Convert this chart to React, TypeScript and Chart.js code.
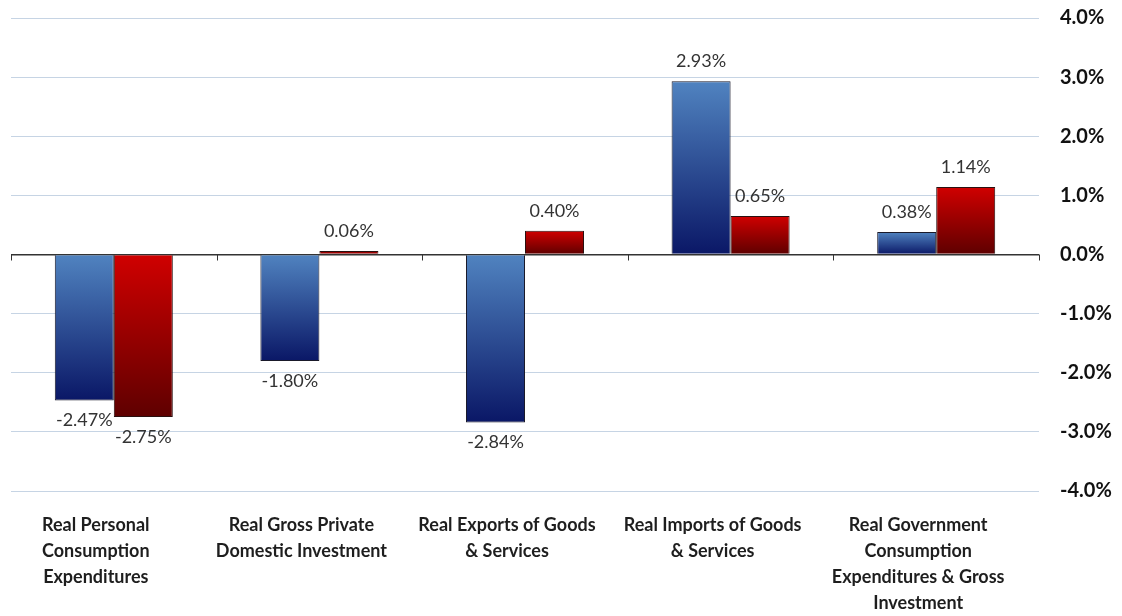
import React, { useEffect, useRef } from "react";
import { Chart, registerables } from "chart.js";

Chart.register(...registerables);

const categories: string[][] = [
  ["Real Personal", "Consumption", "Expenditures"],
  ["Real Gross Private", "Domestic Investment"],
  ["Real Exports of Goods", "& Services"],
  ["Real Imports of Goods", "& Services"],
  ["Real Government", "Consumption", "Expenditures & Gross", "Investment"],
];
const seriesBlue = [-2.47, -1.8, -2.84, 2.93, 0.38];
const seriesRed = [-2.75, 0.06, 0.4, 0.65, 1.14];
const yMin = -4;
const yMax = 4;
const yStep = 1;

const FONT = "Lato";
const LABEL_SIZE = 18;
const LABEL_LH = 26;
const LABEL_PAD = 21;
const LABEL_SHIFT = -18;

function gradientFill(top: string, bottom: string) {
  return (ctx: any) => {
    const chart = ctx.chart;
    const y = chart.scales && chart.scales.y;
    const v = ctx.raw;
    if (!y || !chart.chartArea || typeof v !== "number") return top;
    const p0 = y.getPixelForValue(0);
    const p1 = y.getPixelForValue(v);
    const a = Math.min(p0, p1);
    const b = Math.max(p0, p1);
    if (b - a < 1) return bottom;
    const g = chart.ctx.createLinearGradient(0, a, 0, b);
    g.addColorStop(0, top);
    g.addColorStop(1, bottom);
    return g;
  };
}

const customDraw = {
  id: "customDraw",
  afterDatasetsDraw(chart: any) {
    const ctx = chart.ctx;
    ctx.save();
    ctx.font = `normal 18px ${FONT}`;
    ctx.fillStyle = "#333333";
    ctx.textAlign = "center";
    ctx.textBaseline = "middle";
    chart.data.datasets.forEach((ds: any, di: number) => {
      const meta = chart.getDatasetMeta(di);
      meta.data.forEach((bar: any, i: number) => {
        const v = ds.data[i];
        const txt = v.toFixed(2) + "%";
        ctx.fillText(txt, bar.x, v >= 0 ? bar.y - 20 : bar.y + 20);
      });
    });
    const xs = chart.scales.x;
    const ys = chart.scales.y;
    const y0 = ys.getPixelForValue(0);
    const n = chart.data.labels.length;
    ctx.strokeStyle = "#333333";
    ctx.lineWidth = 1;
    for (let i = 0; i <= n; i++) {
      const x = Math.round(xs.left + (i * (xs.right - xs.left)) / n) + 0.5;
      ctx.beginPath();
      ctx.moveTo(x, y0);
      ctx.lineTo(x, y0 + 6);
      ctx.stroke();
    }
    ctx.restore();
  },
  afterDraw(chart: any) {
    const ctx = chart.ctx;
    const xs = chart.scales.x;
    ctx.save();
    ctx.font = `bold ${LABEL_SIZE}px ${FONT}`;
    ctx.fillStyle = "#1e1e1e";
    ctx.textAlign = "center";
    ctx.textBaseline = "middle";
    categories.forEach((lines, i) => {
      const cx = xs.getPixelForTick(i) + LABEL_SHIFT;
      lines.forEach((line, j) => {
        ctx.fillText(line, cx, xs.top + LABEL_PAD + LABEL_LH * (j + 0.5));
      });
    });
    ctx.restore();
  },
};

export default function App() {
  const ref = useRef<HTMLCanvasElement | null>(null);
  useEffect(() => {
    if (!ref.current) return;
    const chart = new Chart(ref.current, {
      type: "bar",
      data: {
        labels: categories,
        datasets: [
          {
            label: "Blue",
            data: seriesBlue,
            backgroundColor: gradientFill("#5083c0", "#0a1766"),
            borderColor: "#1a1a2a",
            borderWidth: 1,
            barPercentage: 1,
            categoryPercentage: 0.574,
          },
          {
            label: "Red",
            data: seriesRed,
            backgroundColor: gradientFill("#d00000", "#5e0000"),
            borderColor: "#2a1010",
            borderWidth: 1,
            barPercentage: 1,
            categoryPercentage: 0.574,
          },
        ],
      },
      options: {
        animation: false,
        responsive: true,
        maintainAspectRatio: false,
        layout: { padding: { left: 11, top: 18, right: 0, bottom: 0 } },
        plugins: {
          legend: { display: false },
          tooltip: { enabled: false },
        },
        scales: {
          x: {
            grid: { display: false, drawTicks: false },
            border: { display: false },
            afterFit: (s: any) => {
              s.height = 125;
            },
            ticks: {
              color: "rgba(0,0,0,0)",
              autoSkip: false,
              maxRotation: 0,
              minRotation: 0,
              padding: LABEL_PAD,
              font: { family: FONT, size: 12 },
            },
          },
          y: {
            position: "right",
            min: yMin,
            max: yMax,
            border: { display: false },
            afterFit: (s: any) => {
              s.width = 83;
              s.paddingTop = 0;
              s.paddingBottom = 0;
            },
            grid: {
              drawTicks: false,
              color: (c: any) => (c.tick && c.tick.value === 0 ? "#333333" : "#c6d4e4"),
              lineWidth: (c: any) => (c.tick && c.tick.value === 0 ? 1.5 : 1),
            },
            ticks: {
              stepSize: yStep,
              padding: 21,
              color: "#111111",
              font: { family: FONT, size: 20, weight: "bold" },
              callback: (v: any) => Number(v).toFixed(1) + "%",
            },
          },
        },
      },
      plugins: [customDraw],
    });
    return () => chart.destroy();
  }, []);
  return (
    <div style={{ position: "absolute", left: 0, top: 0, width: 1122, height: 616, background: "#fff" }}>
      <canvas ref={ref} />
    </div>
  );
}
